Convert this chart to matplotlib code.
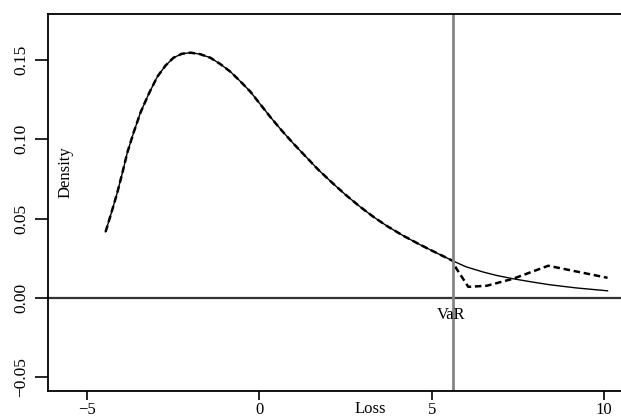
import numpy as np
import matplotlib
matplotlib.use("Agg")
import matplotlib.pyplot as plt

plt.rcParams['font.family'] = ['Liberation Serif', 'DejaVu Serif']

# density
loss = [-4.46, -4.3, -4.12, -3.97, -3.83, -3.65, -3.45, -3.2, -2.96, -2.72, -2.49, -2.25,
        -2.0, -1.72, -1.42, -1.13, -0.84, -0.55, -0.26, 0.03, 0.32, 0.65, 1.0, 1.35,
        1.7, 2.1, 2.5, 2.9, 3.3, 3.7, 4.17, 4.6, 5.0, 5.3, 5.62, 6.0, 6.5, 6.9,
        7.36, 7.9, 8.43, 9.2, 10.1]
dens = [0.0416, 0.053, 0.0663, 0.079, 0.0915, 0.104, 0.1167, 0.129, 0.1394, 0.1465, 0.1514, 0.1539,
        0.1546, 0.1537, 0.1514, 0.1474, 0.1426, 0.1365, 0.130, 0.122, 0.114, 0.1055, 0.097, 0.089,
        0.081, 0.0728, 0.065, 0.0578, 0.0512, 0.0453, 0.0392, 0.0342, 0.0298, 0.0266, 0.0232, 0.0195, 0.0162, 0.014,
        0.012, 0.0100, 0.0082, 0.0062, 0.0044]

var = 5.62

# second (dashed) curve: same as above up to VaR, then its own tail
n_body = loss.index(var) + 1
tail_x = [5.7, 6.06, 6.6, 7.36, 8.38, 10.1]
tail_y = [0.019, 0.0069, 0.0076, 0.012, 0.0202, 0.0126]
loss2 = loss[:n_body] + tail_x
dens2 = dens[:n_body] + tail_y

xticks = [-5, 0, 5, 10]
yticks = [-0.05, 0.0, 0.05, 0.10, 0.15]
yticklabels = ["\u22120.05", "0.00", "0.05", "0.10", "0.15"]
xticklabels = ["\u22125", "0", "5", "10"]

fig = plt.figure(figsize=(6.21, 4.19), dpi=100)
# axes run past the right edge, the original picture is cropped there
ax = fig.add_axes([48/621, 28/419, (692-48)/621, (391-14)/419])

ax.plot(loss, dens, color='black', lw=1.0)
ax.plot(loss2, dens2, color='black', lw=1.8, dashes=(2.6, 1.5))
ax.axhline(0, color='#333333', lw=1.6)
ax.axvline(var, color='#858585', lw=2.0)

ax.set_xlim(-6.13, 12.55)
ax.set_ylim(-0.0588, 0.179)
ax.set_xticks(xticks)
ax.set_xticklabels(xticklabels)
ax.set_yticks(yticks)
ax.set_yticklabels(yticklabels, rotation=90, va='center')

ax.tick_params(axis='x', length=6.5, width=1.2, pad=1.5, labelsize=12)
ax.tick_params(axis='y', length=9.5, width=1.2, pad=4, labelsize=12.5)
for s in ['left', 'bottom', 'top']:
    ax.spines[s].set_linewidth(1.3)
ax.spines['right'].set_visible(False)

ax.text(0.5, -0.047, "Loss", transform=ax.transAxes, ha='center', va='center', fontsize=12)
ax.text(-5.61, 0.079, "Density", rotation=90, ha='center', va='center', fontsize=12)
ax.text(var - 0.05, -0.0107, "VaR", ha='center', va='center', fontsize=12)

fig.savefig("out.png", dpi=100)
